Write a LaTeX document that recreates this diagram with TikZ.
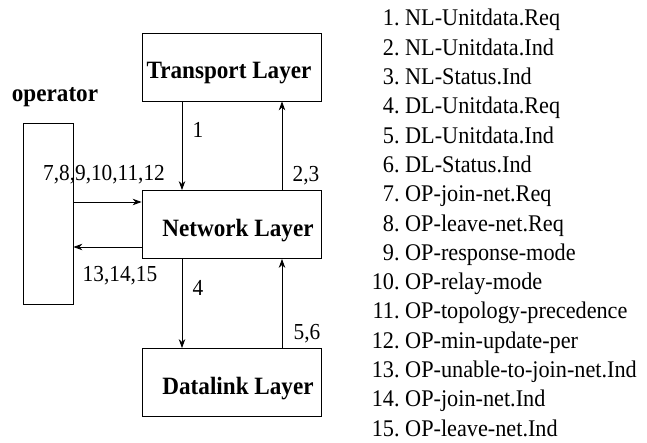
\documentclass[tikz,border=0pt]{standalone}
\usepackage{fontspec}
\setmainfont{Liberation Serif}
\usetikzlibrary{arrows.meta}
\newcommand{\narrowtxt}[1]{\scalebox{0.93}[1]{#1}}
\begin{document}
\begin{tikzpicture}[x=1bp,y=-1bp,
  layer/.style={draw,line width=0.8bp,minimum width=179bp,minimum height=68bp,inner sep=0pt},
  lbl/.style={font=\fontsize{25}{28}\selectfont\bfseries,inner sep=0pt},
  num/.style={font=\fontsize{23}{26}\selectfont,inner sep=0pt},
  conn/.style={line width=0.8bp,-{Stealth[length=9bp,width=6.5bp]}},
  item/.style={font=\fontsize{24}{26}\selectfont,inner sep=0pt,anchor=base west}]
\useasboundingbox (0,0) rectangle (647,443);
\node[layer] (tl) at (231.5,67) {};
\node[layer] (nl) at (231.5,224.5) {};
\node[layer] (dl) at (231.5,382.5) {};
\node[draw,line width=0.8bp,minimum width=50bp,minimum height=181bp,inner sep=0pt] (op) at (48,213.5) {};
\node[lbl] (tlt) at (229,73) {\narrowtxt{Transport Layer}};
\node[lbl] (nlt) at (238,231) {\narrowtxt{Network Layer}};
\node[lbl] (dlt) at (238,389) {\narrowtxt{Datalink Layer}};
\node[lbl] (opt) at (55,97) {\narrowtxt{operator}};
\draw[conn] (tl.south -| 182,0) -- (nl.north -| 182,0);
\draw[conn] (nl.north -| 282,0) -- (tl.south -| 282,0);
\draw[conn] (nl.south -| 182,0) -- (dl.north -| 182,0);
\draw[conn] (dl.north -| 282,0) -- (nl.south -| 282,0);
\draw[conn] (op.east |- 0,202) -- (nl.west |- 0,202);
\draw[conn] (nl.west |- 0,247) -- (op.east |- 0,247);
\node[num] (n1) at (198,130) {\narrowtxt{1}};
\node[num] (n23) at (306,176) {\narrowtxt{2,3}};
\node[num] (n4) at (198,288) {\narrowtxt{4}};
\node[num] (n56) at (307,334) {\narrowtxt{5,6}};
\node[num] (n7) at (104,175) {\narrowtxt{7,8,9,10,11,12}};
\node[num] (n13) at (120,276) {\narrowtxt{13,14,15}};
\foreach \i/\t [count=\k from 0] in {1/NL-Unitdata.Req,2/NL-Unitdata.Ind,3/NL-Status.Ind,4/DL-Unitdata.Req,5/DL-Unitdata.Ind,6/DL-Status.Ind,7/OP-join-net.Req,8/OP-leave-net.Req,9/OP-response-mode,10/OP-relay-mode,11/OP-topology-precedence,12/OP-min-update-per,13/OP-unable-to-join-net.Ind,14/OP-join-net.Ind,15/OP-leave-net.Ind}{
  \node[item] (it\i) at (405,{26+29.3*\k}) {\narrowtxt{\llap{\i.\ }\t}};
}
\end{tikzpicture}
\end{document}
